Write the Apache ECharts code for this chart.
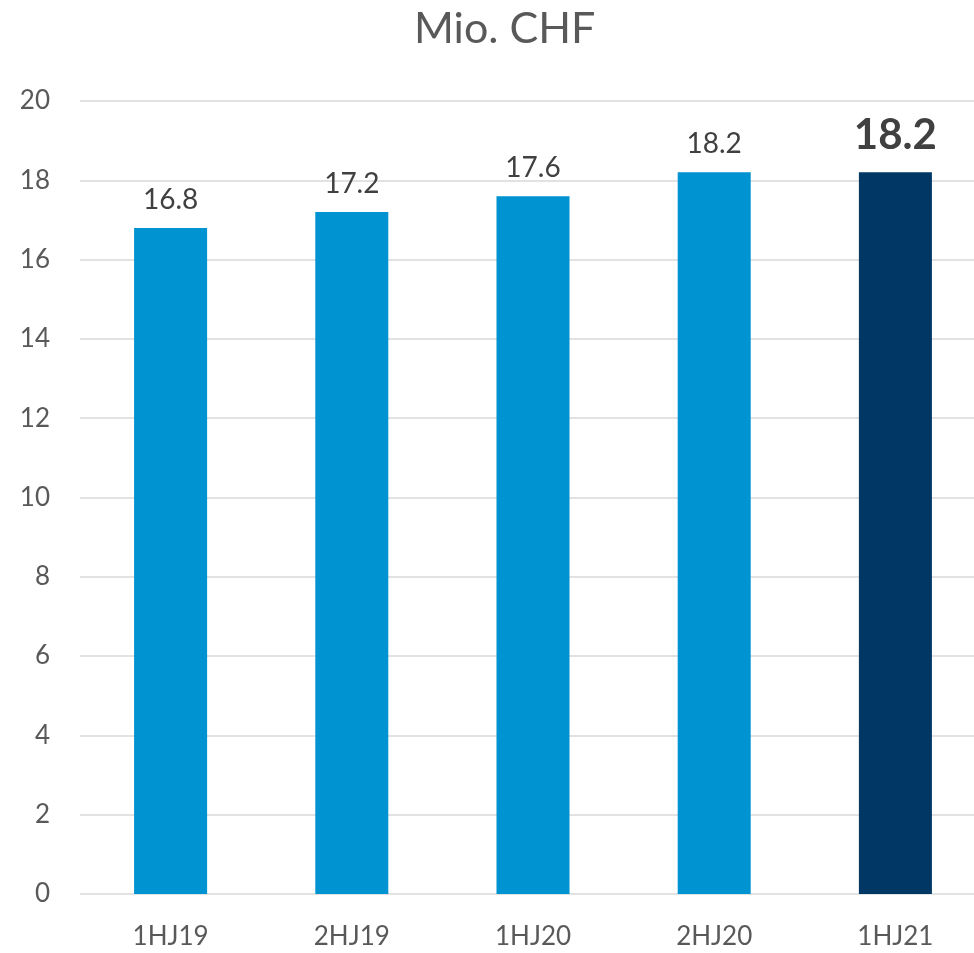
<!DOCTYPE html>
<html><head><meta charset="utf-8">
<script src="https://cdn.jsdelivr.net/npm/echarts@6/dist/echarts.min.js"></script>
<style>html,body{margin:0;padding:0;background:#fff;overflow:hidden}#c{width:986px;height:953px}</style>
</head><body><div id="c"></div>
<script>
const categories = ['1HJ19', '2HJ19', '1HJ20', '2HJ20', '1HJ21'];
const values = [16.8, 17.2, 17.6, 18.2, 18.2];
const yTicks = [0, 2, 4, 6, 8, 10, 12, 14, 16, 18, 20];
const FONT = 'Lato, "Open Sans", sans-serif';
const chart = echarts.init(document.getElementById('c'));
const data = values.map((v, i) => {
  const last = i === values.length - 1;
  return {
    value: v,
    itemStyle: { color: last ? '#003764' : '#0093d1' },
    label: last ? { fontSize: 42, fontWeight: 'bold', distance: 16 } : {}
  };
});
chart.setOption({
  animation: false,
  title: {
    text: 'Mio. CHF', left: 414, top: 8,
    textStyle: { fontFamily: FONT, fontSize: 43, fontWeight: 'normal', color: '#595959' },
    padding: 0
  },
  grid: { left: 80, right: 0, top: 101, bottom: 59 },
  xAxis: {
    type: 'category', data: categories,
    axisLine: { show: false }, axisTick: { show: false },
    axisLabel: { fontFamily: FONT, fontSize: 26, color: '#595959', margin: 30 }
  },
  yAxis: {
    type: 'value', min: yTicks[0], max: yTicks[yTicks.length - 1], interval: 2,
    axisLine: { show: false }, axisTick: { show: false },
    axisLabel: { fontFamily: FONT, fontSize: 26, color: '#595959', margin: 30 },
    splitLine: { lineStyle: { color: '#d9d9d9', width: 1.5 } }
  },
  series: [{
    type: 'bar', data: data, barWidth: '40.3%',
    label: { show: true, position: 'top', distance: 14, fontFamily: FONT, fontSize: 28, color: '#404040', formatter: p => p.value.toFixed(1) }
  }]
});
</script></body></html>
